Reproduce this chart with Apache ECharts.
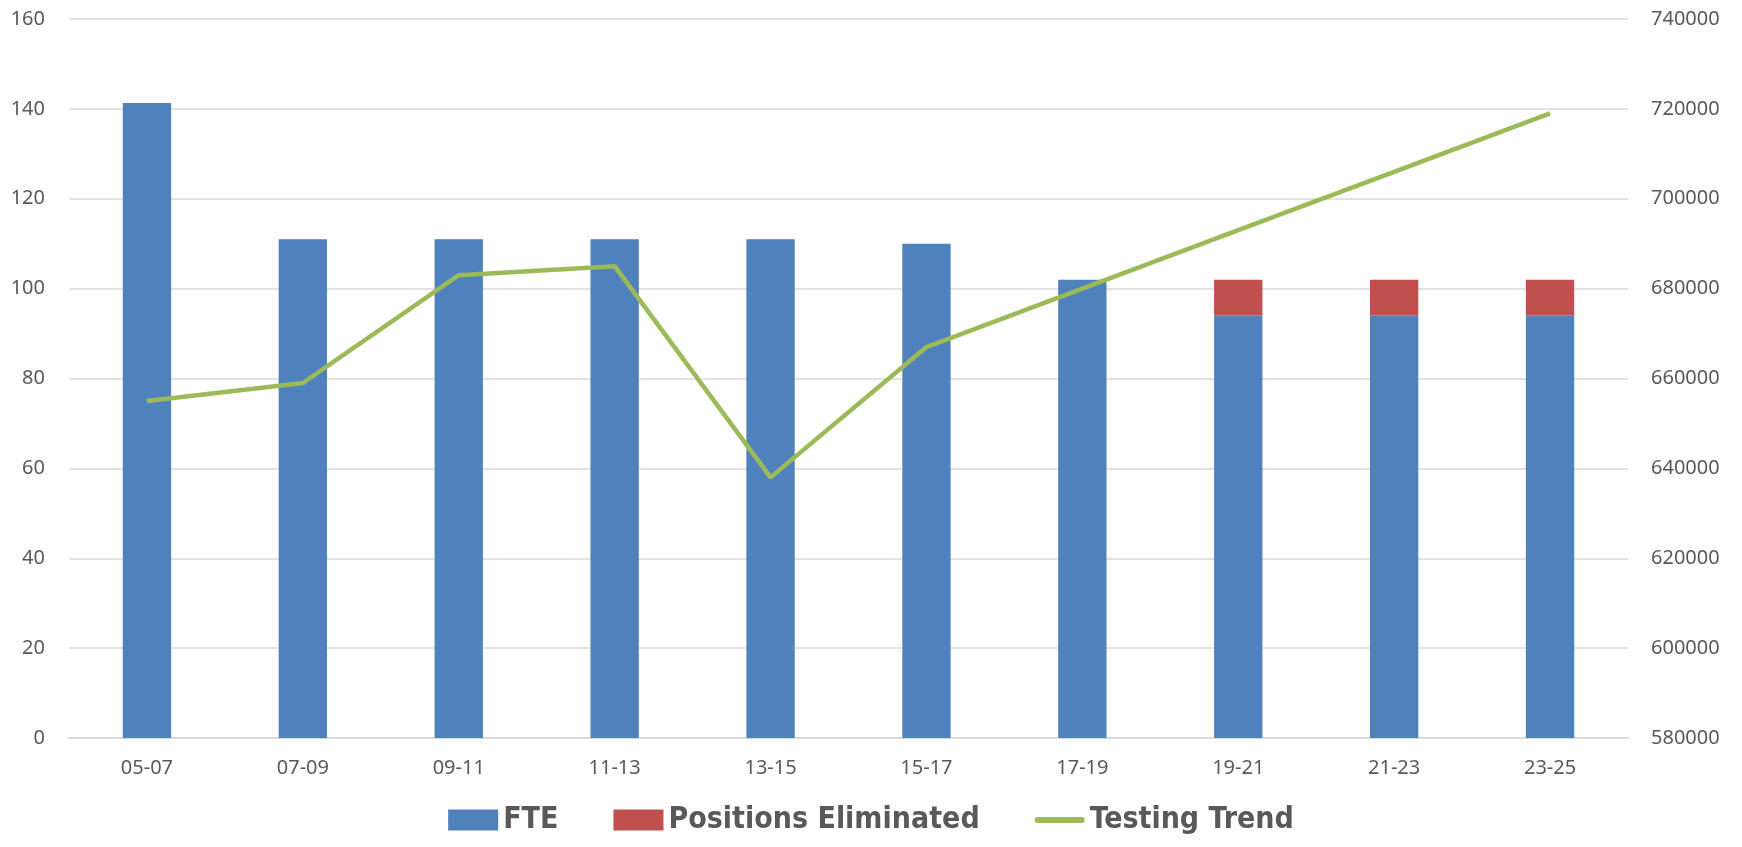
<!DOCTYPE html>
<html>
<head>
<meta charset="utf-8">
<script src="https://cdn.jsdelivr.net/npm/echarts@6/dist/echarts.min.js"></script>
<style>
html, body { margin: 0; padding: 0; background: #fff; }
#chart { width: 1742px; height: 847px; }
</style>
</head>
<body>
<div id="chart"></div>
<script>
var periods = ['05-07', '07-09', '09-11', '11-13', '13-15', '15-17', '17-19', '19-21', '21-23', '23-25'];
var fte = [141.3, 111, 111, 111, 111, 110, 102, 94, 94, 94];
var eliminated = [0, 0, 0, 0, 0, 0, 0, 8, 8, 8];
var testingTrend = [655000, 659000, 683000, 685000, 638000, 667000, 680000, 693000, 706000, 719000];

var chart = echarts.init(document.getElementById('chart'));

var labelStyle = { color: '#595959', fontSize: 20, fontFamily: 'Noto Sans' };

chart.setOption({
	animation: false,
	grid: { left: 69, right: 114, top: 19, bottom: 109 },
	legend: {
		bottom: 7,
		left: 'center',
		itemWidth: 50,
		itemHeight: 21,
		itemGap: 55,
		textStyle: { color: '#595959', fontSize: 30, fontWeight: 'bold', fontFamily: "'Liberation Sans Narrow', 'DejaVu Sans Condensed', sans-serif" },
		data: [
			{ name: 'FTE', icon: 'rect' },
			{ name: 'Positions Eliminated', icon: 'rect' },
			// flat rounded bar as the line key
			{ name: 'Testing Trend', icon: 'path://M3,0 L47,0 A3,3 0 0 1 47,6 L3,6 A3,3 0 0 1 3,0 Z' }
		]
	},
	xAxis: {
		type: 'category',
		data: periods,
		axisLine: { lineStyle: { color: '#d9d9d9', width: 2 } },
		axisTick: { show: false },
		axisLabel: Object.assign({ margin: 20 }, labelStyle)
	},
	yAxis: [{
		type: 'value',
		min: 0,
		max: 160,
		interval: 20,
		axisLine: { show: false },
		axisTick: { show: false },
		splitLine: { lineStyle: { color: '#d9d9d9', width: 1.5 } },
		axisLabel: Object.assign({ margin: 24 }, labelStyle)
	}, {
		type: 'value',
		min: 580000,
		max: 740000,
		interval: 20000,
		axisLine: { show: false },
		axisTick: { show: false },
		splitLine: { show: false },
		axisLabel: Object.assign({ margin: 23, formatter: function (v) { return String(v); } }, labelStyle)
	}],
	series: [{
		name: 'FTE',
		type: 'bar',
		stack: 'total',
		barWidth: '31%',
		data: fte,
		itemStyle: { color: '#4F81BD' }
	}, {
		name: 'Positions Eliminated',
		type: 'bar',
		stack: 'total',
		data: eliminated,
		itemStyle: { color: '#C0504D' }
	}, {
		name: 'Testing Trend',
		type: 'line',
		yAxisIndex: 1,
		data: testingTrend,
		symbol: 'none',
		z: 5,
		itemStyle: { color: '#9BBB59' },
		lineStyle: { color: '#9BBB59', width: 4.5 }
	}]
});
</script>
</body>
</html>
